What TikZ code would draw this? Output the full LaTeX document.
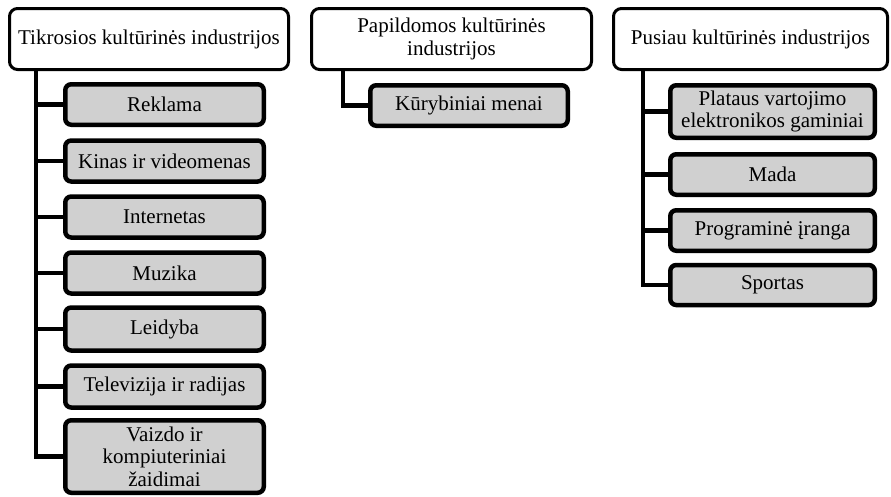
\documentclass[tikz,border=0pt]{standalone}
\usepackage{fontspec}
\setmainfont{Liberation Serif}
\definecolor{itemgray}{HTML}{D0D0D0}
\tikzset{
	hdr/.style={draw, line width=3pt, rounded corners=8pt, fill=white, align=center,
		inner sep=0pt, minimum height=61pt, font=\fontsize{21}{22.5}\selectfont},
	item/.style={draw, line width=4.5pt, rounded corners=6pt, fill=itemgray, align=center,
		inner sep=0pt, font=\fontsize{21}{22.5}\selectfont},
	link/.style={line width=4.5pt}
}
\begin{document}
\begin{tikzpicture}[x=1pt,y=-1pt]
		\useasboundingbox (0,0) rectangle (891,496);
		\node[hdr, minimum width=279pt] (h1) at (149,39) {Tikrosios kultūrinės industrijos};
		\node[hdr, minimum width=280pt] (h2) at (451.5,39) {Papildomos kultūrinės\\industrijos};
		\node[hdr, minimum width=274pt] (h3) at (750.5,39) {Pusiau kultūrinės industrijos};
		\coordinate (v1) at (36,0);
		\coordinate (v2) at (343,0);
		\coordinate (v3) at (643,0);
		\foreach \y/\h/\txt [count=\i] in {104.5/40.5/Reklama, 161/41/Kinas ir videomenas,
			217/41/Internetas, 273/41/Muzika, 329/43/Leidyba, 386.5/42/Televizija ir radijas,
			456.5/72.5/{Vaizdo ir\\kompiuteriniai\\žaidimai}}{
			\node[item, minimum width=198.5pt, minimum height=\h pt] (a\i) at (164.5,\y) {\txt};
			\draw[link] (h1.south -| v1) |- (a\i.west);}
		\node[item, minimum width=197.5pt, minimum height=40.5pt] (b1) at (469,105.5) {Kūrybiniai menai};
		\draw[link] (h2.south -| v2) |- (b1.west);
		\foreach \y/\h/\txt [count=\i] in {111.5/52.5/{Plataus vartojimo\\elektronikos gaminiai},
			174.5/40.5/Mada, 230.5/40.5/Programinė įranga, 285/40/Sportas}{
			\node[item, minimum width=204.5pt, minimum height=\h pt] (c\i) at (772.5,\y) {\txt};
			\draw[link] (h3.south -| v3) |- (c\i.west);}
\end{tikzpicture}
\end{document}
